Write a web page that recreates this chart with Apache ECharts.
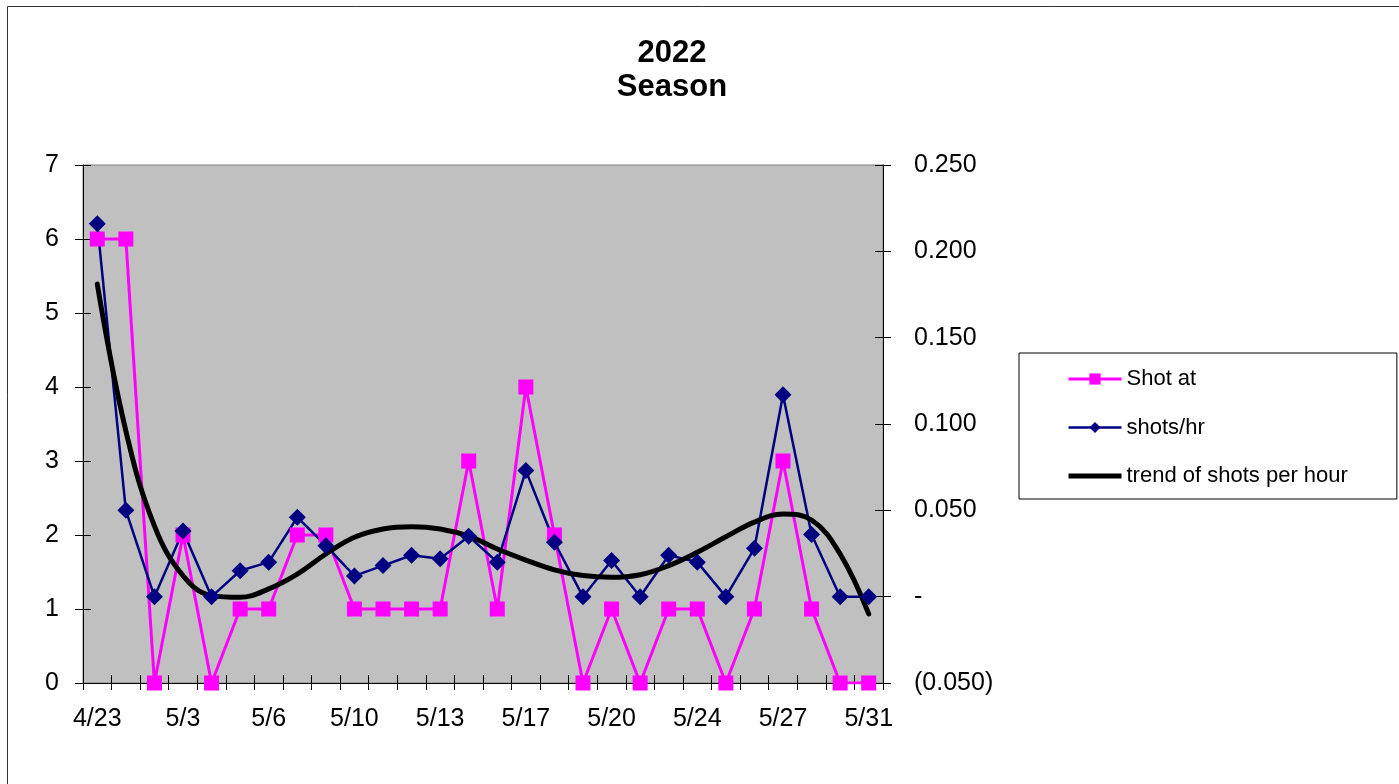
<!DOCTYPE html>
<html><head><meta charset="utf-8">
<script src="https://cdn.jsdelivr.net/npm/echarts@6/dist/echarts.min.js"></script>
<style>html,body{margin:0;padding:0;background:#fff}#c{width:1399px;height:784px}</style>
</head><body><div id="c"></div>
<script>
const categories = ['4/23','4/24','4/30','5/3','5/4','5/5','5/6','5/7','5/8','5/10','5/11','5/12','5/13','5/14','5/15','5/17','5/18','5/19','5/20','5/21','5/22','5/24','5/25','5/26','5/27','5/28','5/29','5/31'];
const shotAt = [6,6,0,2,0,1,1,2,2,1,1,1,1,3,1,4,2,0,1,0,1,1,0,1,3,1,0,0];
const shotsPerHour = [0.216,0.050,0,0.038,0,0.015,0.020,0.046,0.0295,0.012,0.018,0.024,0.022,0.035,0.020,0.073,0.0315,0,0.021,0,0.024,0.020,0,0.028,0.117,0.036,0,0];
const trendShotsPerHour = [0.181,0.096,0.041,0.0122,0.0006,-0.0004,0.0045,0.0131,0.0247,0.0344,0.0392,0.0405,0.0392,0.0350,0.0276,0.0212,0.0155,0.0122,0.0112,0.0127,0.0180,0.0257,0.0347,0.0432,0.0479,0.0444,0.0247,-0.0100];
const leftAxisRange = [0, 7, 1];
const rightAxisRange = [-0.05, 0.25, 0.05];
const titleText = '2022\nSeason';
const seriesNames = ['Shot at', 'shots/hr', 'trend of shots per hour'];

const FF = 'Liberation Sans, Arial, sans-serif';
const chart = echarts.init(document.getElementById('c'), null, {renderer: 'canvas'});
const xBase = {type: 'category', data: categories, boundaryGap: true, position: 'bottom', splitLine: {show: false}};
const fmtRight = v => {
  if (Math.abs(v) < 1e-9) return '-';
  if (v < 0) return '(' + Math.abs(v).toFixed(3) + ')';
  return v.toFixed(3);
};
chart.setOption({
  animation: false,
  backgroundColor: '#fff',
  graphic: [{type: 'rect', silent: true, z: -10, shape: {x: 7.5, y: 6.5, width: 1500, height: 900}, style: {fill: 'none', stroke: '#333', lineWidth: 1}}],
  title: {text: titleText, left: 667, top: 31, textAlign: 'center',
    textStyle: {fontSize: 31, fontWeight: 'bold', fontFamily: FF, color: '#000', lineHeight: 34}},
  grid: {left: 83, top: 165, width: 800, height: 518, show: true, backgroundColor: '#C0C0C0', borderColor: '#808080', borderWidth: 1},
  legend: {
    orient: 'vertical', left: 1019, top: 353, padding: [15, 49, 12, 48], itemGap: 26.5,
    itemWidth: 53, itemHeight: 14, borderColor: '#000', borderWidth: 1, backgroundColor: '#fff',
    textStyle: {fontSize: 22, color: '#000', fontFamily: FF, lineHeight: 22},
    data: [
      {name: seriesNames[0], lineStyle: {width: 3}},
      {name: seriesNames[1], lineStyle: {width: 2.5}},
      {name: seriesNames[2], icon: 'path://M0,0L53,0L53,5L0,5Z', itemStyle: {color: '#000'}}
    ]
  },
  xAxis: [
    Object.assign({}, xBase, {
      axisLine: {show: true, onZero: false, lineStyle: {color: '#000', width: 1}},
      axisTick: {show: true, interval: 0, length: 7, lineStyle: {color: '#000'}},
      axisLabel: {interval: 2, margin: 24, fontSize: 25, color: '#000', fontFamily: FF}
    }),
    Object.assign({}, xBase, {
      axisLine: {show: false, onZero: false},
      axisTick: {show: true, inside: true, interval: 0, length: 8, lineStyle: {color: '#000'}},
      axisLabel: {show: false}
    })
  ],
  yAxis: [
    {type: 'value', position: 'left', min: leftAxisRange[0], max: leftAxisRange[1], interval: leftAxisRange[2],
      axisLine: {show: true, onZero: false, lineStyle: {color: '#000'}}, axisTick: {show: true, length: 8, lineStyle: {color: '#000'}},
      axisLabel: {margin: 24, fontSize: 25, color: '#000', fontFamily: FF}, splitLine: {show: false}},
    {type: 'value', position: 'right', min: rightAxisRange[0], max: rightAxisRange[1], interval: rightAxisRange[2],
      axisLine: {show: true, onZero: false, lineStyle: {color: '#000'}}, axisTick: {show: true, length: 8, lineStyle: {color: '#000'}},
      axisLabel: {margin: 31, fontSize: 25, color: '#000', fontFamily: FF, formatter: fmtRight}, splitLine: {show: false}},
    {type: 'value', position: 'left', min: leftAxisRange[0], max: leftAxisRange[1], interval: leftAxisRange[2],
      axisLine: {show: false, onZero: false}, axisTick: {show: true, inside: true, length: 8, lineStyle: {color: '#000'}},
      axisLabel: {show: false}, splitLine: {show: false}},
    {type: 'value', position: 'right', min: rightAxisRange[0], max: rightAxisRange[1], interval: rightAxisRange[2],
      axisLine: {show: false, onZero: false}, axisTick: {show: true, inside: true, length: 8, lineStyle: {color: '#000'}},
      axisLabel: {show: false}, splitLine: {show: false}}
  ],
  series: [
    {name: seriesNames[0], type: 'line', xAxisIndex: 0, yAxisIndex: 0, data: shotAt,
      symbol: 'rect', symbolSize: 15, itemStyle: {color: '#FF00FF'}, lineStyle: {color: '#FF00FF', width: 3}, emphasis: {disabled: true}},
    {name: seriesNames[1], type: 'line', xAxisIndex: 0, yAxisIndex: 1, data: shotsPerHour,
      symbol: 'diamond', symbolSize: 17, itemStyle: {color: '#000080'}, lineStyle: {color: '#000080', width: 2.5}, emphasis: {disabled: true}},
    {name: seriesNames[2], type: 'line', xAxisIndex: 0, yAxisIndex: 1, data: trendShotsPerHour, smooth: 0.4,
      symbol: 'none', itemStyle: {color: '#000'}, lineStyle: {color: '#000', width: 5, cap: 'round'}, emphasis: {disabled: true}}
  ]
});
</script></body></html>
